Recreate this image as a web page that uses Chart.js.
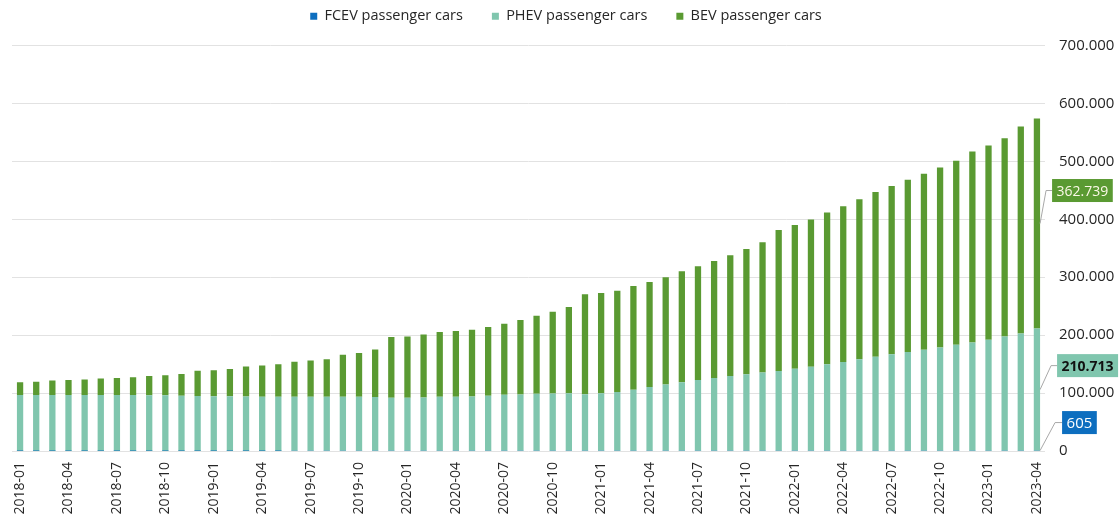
<!DOCTYPE html>
<html>
<head>
<meta charset="utf-8">
<script src="https://cdn.jsdelivr.net/npm/chart.js@4/dist/chart.umd.min.js"></script>
<style>
  html, body { margin: 0; padding: 0; background: #fff; }
  #wrap { width: 1120px; height: 518px; position: relative; }
</style>
</head>
<body>
<div id="wrap"><canvas id="stock-chart"></canvas></div>
<script>
// Months on the x axis
const months = [
  '2018-01','2018-02','2018-03','2018-04','2018-05','2018-06','2018-07','2018-08','2018-09','2018-10','2018-11','2018-12',
  '2019-01','2019-02','2019-03','2019-04','2019-05','2019-06','2019-07','2019-08','2019-09','2019-10','2019-11','2019-12',
  '2020-01','2020-02','2020-03','2020-04','2020-05','2020-06','2020-07','2020-08','2020-09','2020-10','2020-11','2020-12',
  '2021-01','2021-02','2021-03','2021-04','2021-05','2021-06','2021-07','2021-08','2021-09','2021-10','2021-11','2021-12',
  '2022-01','2022-02','2022-03','2022-04','2022-05','2022-06','2022-07','2022-08','2022-09','2022-10','2022-11','2022-12',
  '2023-01','2023-02','2023-03','2023-04'
];

// Stock per month (FCEV too small to see: estimated)
const fcevCars = [
  45, 50, 55, 60, 66, 72, 80, 90, 100, 110, 122, 135,
  150, 165, 180, 196, 212, 226, 240, 252, 265, 280, 295, 310,
  322, 330, 338, 345, 352, 360, 368, 375, 382, 390, 398, 405,
  412, 420, 428, 436, 444, 452, 460, 468, 476, 484, 492, 500,
  508, 516, 524, 532, 540, 548, 556, 564, 572, 580, 586, 592,
  596, 599, 602, 605
];
const phevCars = [
  96700, 96700, 96700, 96700, 96700, 96700, 96700, 96500, 96200, 96000, 95200, 94800,
  94500, 94200, 93800, 93500, 93300, 93300, 93300, 93300, 93300, 93300, 92900, 91500,
  91500, 92100, 93300, 93300, 93900, 95000, 96700, 97300, 98400, 99000, 99400, 97500,
  99300, 101600, 105400, 110000, 114300, 118300, 122000, 125500, 128800, 132000, 135000, 137500,
  141300, 145000, 149200, 153200, 157800, 162300, 166300, 170300, 174300, 178300, 182900, 186500,
  191400, 197100, 202300, 210713
];
const bevCars = [
  21900, 23000, 24800, 25900, 26500, 28200, 29400, 30800, 33300, 34700, 37800, 43400,
  44900, 47400, 51800, 53900, 56400, 60400, 62700, 65000, 72500, 75400, 82100, 104800,
  105900, 108800, 111700, 113400, 115100, 118600, 122600, 128400, 134800, 141100, 148800, 172500,
  173100, 174700, 179100, 181400, 185000, 191400, 196300, 202100, 208600, 216300, 224800, 243600,
  248500, 254000, 261800, 268800, 276200, 284400, 290800, 297200, 303600, 310500, 317400, 329900,
  335400, 342300, 357300, 362739
];

const yTicks = [0, 100000, 200000, 300000, 400000, 500000, 600000, 700000];

const FONT = "'Open Sans', 'Noto Sans', sans-serif";
const TEXT = '#262626';

const colors = {
  fcev: '#0d6ebf',
  phev: '#80c6ae',
  bev: '#5a9a32'
};

// 1.234.567 style numbers
function fmt(v) {
  return String(Math.round(v)).replace(/\B(?=(\d{3})+(?!\d))/g, '.');
}

// Room between legend and plot
const legendGap = {
  id: 'legendGap',
  beforeInit(chart) {
    const fit = chart.legend.fit;
    chart.legend.fit = function () {
      fit.bind(chart.legend)();
      this.height += 12;
    };
  }
};

// Value boxes at the last bar, with leader lines
const lastValueBoxes = {
  id: 'lastValueBoxes',
  afterDraw(chart, args, opts) {
    const ctx = chart.ctx;
    opts.items.forEach(item => {
      const ds = chart.data.datasets[item.dataset];
      const meta = chart.getDatasetMeta(item.dataset);
      const last = meta.data.length - 1;
      const bar = meta.data[last];
      const props = bar.getProps(['x', 'y', 'base', 'width'], true);
      const x0 = props.x + props.width / 2;
      const y0 = (props.y + props.base) / 2;
      const yc = y0 + item.dy;
      const text = fmt(ds.data[last]);

      ctx.save();
      ctx.font = item.font;
      const tw = ctx.measureText(text).width;
      const bx = x0 + item.dxBox;
      const bw = tw + 9;
      const bh = 23;

      ctx.strokeStyle = '#a8a8a8';
      ctx.lineWidth = 1;
      ctx.beginPath();
      ctx.moveTo(x0, y0);
      ctx.lineTo(x0 + item.dxElbow, yc);
      ctx.lineTo(bx, yc);
      ctx.stroke();

      ctx.fillStyle = item.bg;
      ctx.fillRect(bx, yc - bh / 2, bw, bh);
      ctx.fillStyle = item.color;
      ctx.textAlign = 'left';
      ctx.textBaseline = 'middle';
      ctx.fillText(text, bx + 4.5, yc + 1);
      ctx.restore();
    });
  }
};

const ctx = document.getElementById('stock-chart').getContext('2d');

new Chart(ctx, {
  type: 'bar',
  data: {
    labels: months,
    datasets: [
      { label: 'FCEV passenger cars', data: fcevCars, backgroundColor: colors.fcev },
      { label: 'PHEV passenger cars', data: phevCars, backgroundColor: colors.phev },
      { label: 'BEV passenger cars', data: bevCars, backgroundColor: colors.bev }
    ]
  },
  options: {
    responsive: true,
    maintainAspectRatio: false,
    animation: false,
    layout: { padding: { top: -20, left: 12, right: 0, bottom: 0 } },
    datasets: {
      bar: { barPercentage: 0.39, categoryPercentage: 1, borderWidth: 0 }
    },
    scales: {
      x: {
        stacked: true,
        grid: { display: false, drawTicks: false },
        border: { display: false },
        afterFit(scale) { scale.height = 67; },
        ticks: {
          autoSkip: false,
          maxRotation: 90,
          minRotation: 90,
          padding: 11,
          color: TEXT,
          font: { family: FONT, size: 14 },
          callback(value, index) {
            return index % 3 === 0 ? months[index] : '';
          }
        }
      },
      y: {
        stacked: true,
        position: 'right',
        min: 0,
        max: 700000,
        afterFit(scale) { scale.width = 75; },
        afterBuildTicks(scale) { scale.ticks = yTicks.map(v => ({ value: v })); },
        grid: { color: '#e2e2e2', lineWidth: 1, drawTicks: false },
        border: { display: false },
        ticks: {
          padding: 14,
          color: TEXT,
          font: { family: FONT, size: 15 },
          callback(value) { return fmt(value); }
        }
      }
    },
    plugins: {
      legend: {
        position: 'top',
        labels: {
          boxWidth: 7,
          boxHeight: 7,
          padding: 29,
          color: TEXT,
          font: { family: FONT, size: 14.5 }
        }
      },
      tooltip: { enabled: false },
      lastValueBoxes: {
        items: [
          { dataset: 2, dy: -33, dxElbow: 6, dxBox: 12, bg: colors.bev, color: '#fbf8e6', font: '14px ' + FONT },
          { dataset: 1, dy: -24, dxElbow: 11, dxBox: 17, bg: colors.phev, color: '#111', font: 'bold 14px ' + FONT },
          { dataset: 0, dy: -28, dxElbow: 15, dxBox: 22, bg: colors.fcev, color: '#fff', font: '15px ' + FONT }
        ]
      }
    }
  },
  plugins: [legendGap, lastValueBoxes]
});
</script>
</body>
</html>
